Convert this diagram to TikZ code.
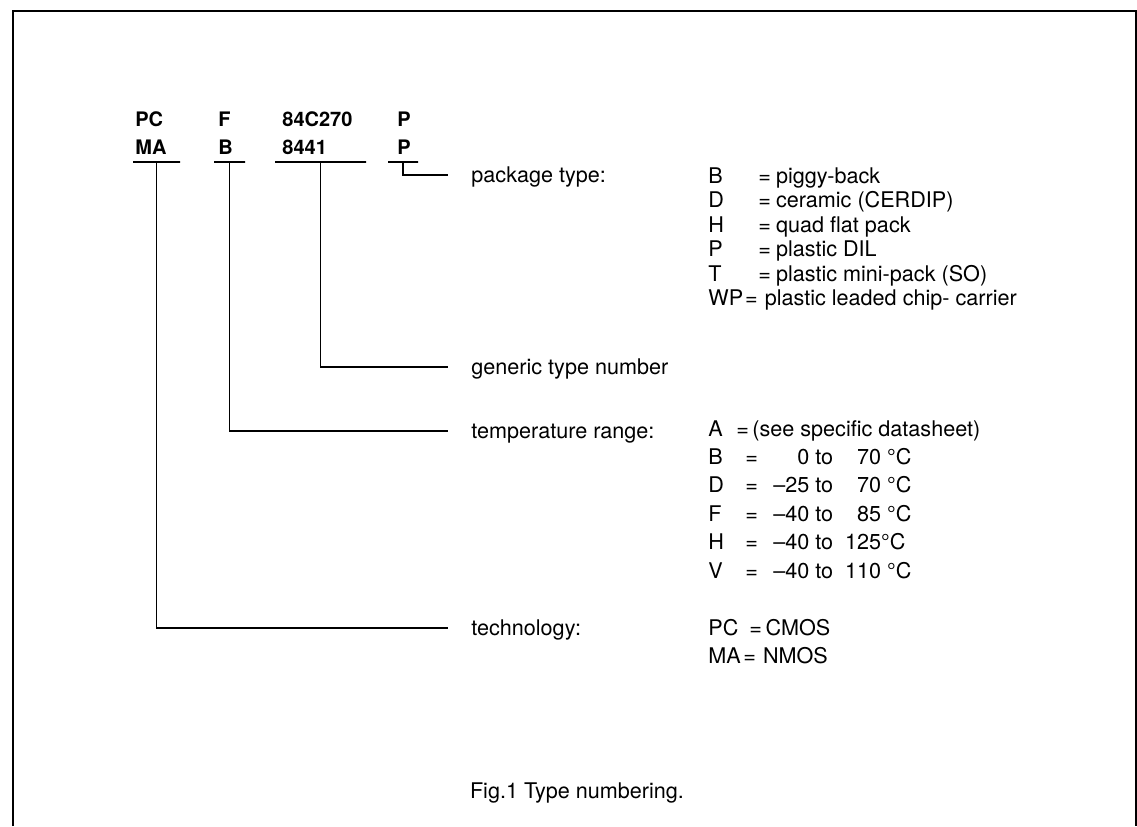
\documentclass[tikz,border=0pt]{standalone}
\usepackage{fontspec}
\setmainfont{TeX Gyre Heros}
\usetikzlibrary{positioning}

\begin{document}
\begin{tikzpicture}[
  x=0.5pt, y=-0.5pt,
  font=\fontsize{10.8}{13}\selectfont,
  code/.style={font=\fontsize{10}{12}\selectfont\bfseries, anchor=base west, inner sep=0pt},
  bar/.style={draw, inner sep=0pt, minimum height=0pt, line width=0.6pt},
  lbl/.style={anchor=west, inner xsep=11.5pt, inner ysep=0pt,
              text height=7pt, text depth=0pt},
  val/.style={anchor=base west, inner sep=0pt},
  lead/.style={line width=0.6pt},
]
\useasboundingbox (0,0) rectangle (1137,826);
\draw[line width=1pt] (13,826) -- (13,11) -- (1136,11) -- (1136,826);

% type number fields
\node[code] (techtop) at (135,126) {PC};
\node[code] (techbot) at (135,154) {MA};
\node[code] (temptop) at (218,126) {F};
\node[code] (tempbot) at (218,154) {B};
\node[code] (gentop)  at (282,126) {84C270};
\node[code] (genbot)  at (282,154) {8441};
\node[code] (pkgtop)  at (397,126) {P};
\node[code] (pkgbot)  at (397,154) {P};

\node[bar, minimum width=23.5pt] (techbar) at (156.5,162) {};
\node[bar, minimum width=15.5pt] (tempbar) at (229.5,162) {};
\node[bar, minimum width=45.5pt] (genbar)  at (320.5,162) {};
\node[bar, minimum width=15pt]   (pkgbar)  at (403,162) {};

% what each field means
\node[lbl] (pkglbl)  at (448,175) {package type:};
\node[lbl] (genlbl)  at (448,367) {generic type number};
\node[lbl] (templbl) at (448,431) {temperature range:};
\node[lbl] (techlbl) at (448,628) {technology:};

\draw[lead] (pkgbar.center)  |- (pkglbl.west);
\draw[lead] (genbar.center)  |- (genlbl.west);
\draw[lead] (tempbar.center) |- (templbl.west);
\draw[lead] (techbar.center) |- (techlbl.west);

% package codes
\node[val] (pkgB)  at (708,183) {\makebox[25pt][l]{B}=\kern2.5pt piggy-back};
\node[val] (pkgD)  at (708,207.5) {\makebox[25pt][l]{D}=\kern2.5pt ceramic (CERDIP)};
\node[val] (pkgH)  at (708,232) {\makebox[25pt][l]{H}=\kern2.5pt quad flat pack};
\node[val] (pkgP)  at (708,256.5) {\makebox[25pt][l]{P}=\kern2.5pt plastic DIL};
\node[val] (pkgT)  at (708,281) {\makebox[25pt][l]{T}=\kern2.5pt plastic mini-pack (SO)};
\node[val] (pkgWP) at (708,305.5) {WP\kern1pt=\kern3.5pt plastic leaded chip- carrier};

% temperature codes
\node[val] (tempA) at (708,436) {\makebox[14pt][l]{A}=\kern1.7pt (see specific datasheet)};
\node[val] (tempB) at (708,464.4) {\makebox[18.5pt][l]{B}=\makebox[25.7pt][r]{0} to \makebox[21pt][r]{70} °C};
\node[val] (tempD) at (708,492.8) {\makebox[18.5pt][l]{D}=\makebox[25.7pt][r]{–25} to \makebox[21pt][r]{70} °C};
\node[val] (tempF) at (708,521.2) {\makebox[18.5pt][l]{F}=\makebox[25.7pt][r]{–40} to \makebox[21pt][r]{85} °C};
\node[val] (tempH) at (708,549.6) {\makebox[18.5pt][l]{H}=\makebox[25.7pt][r]{–40} to \makebox[21pt][r]{125}°C};
\node[val] (tempV) at (708,578) {\makebox[18.5pt][l]{V}=\makebox[25.7pt][r]{–40} to \makebox[21pt][r]{110} °C};

% technology codes
\node[val] (techPC) at (708,635) {\makebox[20.5pt][l]{PC}=\kern1.8pt CMOS};
\node[val] (techMA) at (708,663) {MA\kern1.3pt=\kern3.5pt NMOS};

\node (caption) at (577,793) {Fig.1 Type numbering.};
\end{tikzpicture}
\end{document}
